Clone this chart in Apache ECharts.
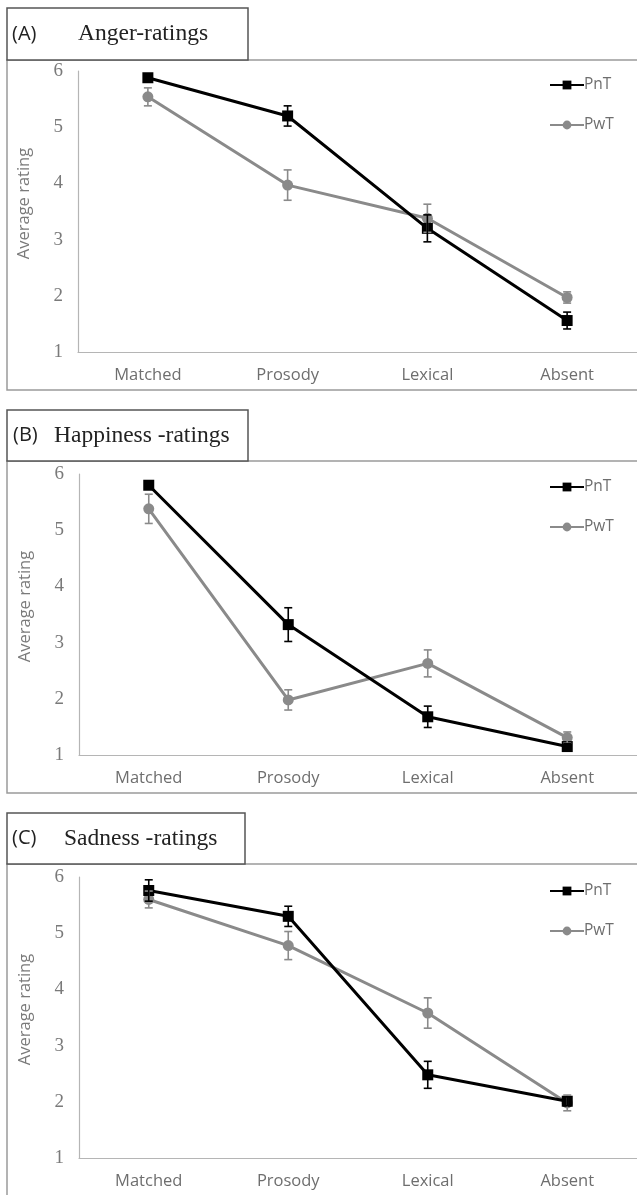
<!DOCTYPE html>
<html><head><meta charset="utf-8">
<script src="https://cdn.jsdelivr.net/npm/echarts@6/dist/echarts.min.js"></script>
<style>html,body{margin:0;padding:0;background:#fff}#c{width:637px;height:1195px}</style>
</head><body><div id="c"></div>
<script>
var categories = ['Matched', 'Prosody', 'Lexical', 'Absent'];
var yTicks = [1, 2, 3, 4, 5, 6];
var panelTitles = [['(A)', 'Anger-ratings'], ['(B)', 'Happiness -ratings'], ['(C)', 'Sadness -ratings']];
var seriesNames = ['PnT', 'PwT'];

var angerPnT = [5.88, 5.20, 3.20, 1.56];
var angerPnTErr = [0.05, 0.18, 0.24, 0.15];
var angerPwT = [5.54, 3.97, 3.38, 1.97];
var angerPwTErr = [0.16, 0.27, 0.25, 0.10];

var happyPnT = [5.80, 3.32, 1.68, 1.15];
var happyPnTErr = [0.05, 0.30, 0.19, 0.05];
var happyPwT = [5.38, 1.98, 2.63, 1.31];
var happyPwTErr = [0.26, 0.18, 0.24, 0.10];

var sadPnT = [5.76, 5.30, 2.48, 2.01];
var sadPnTErr = [0.19, 0.18, 0.24, 0.08];
var sadPwT = [5.60, 4.78, 3.58, 1.98];
var sadPwTErr = [0.15, 0.25, 0.27, 0.14];

var panels = [
  {pnt: angerPnT, pntE: angerPnTErr, pwt: angerPwT, pwtE: angerPwTErr},
  {pnt: happyPnT, pntE: happyPnTErr, pwt: happyPwT, pwtE: happyPwTErr},
  {pnt: sadPnT, pntE: sadPnTErr, pwt: sadPwT, pwtE: sadPwTErr}
];

// layout
var grids = [
  {left: 78, top: 71, height: 281, width: 560},
  {left: 79, top: 474, height: 281, width: 564},
  {left: 79, top: 877, height: 281, width: 564}
];
var frames = [
  {box: [7, 8, 241, 52], frame: [7, 60, 640, 330], t1x: 12, t2x: 78},
  {box: [7, 410, 241, 51], frame: [7, 461, 640, 332], t1x: 13, t2x: 54},
  {box: [7, 813, 238, 51], frame: [7, 864, 640, 340], t1x: 12, t2x: 64}
];
var legendTops = [72, 474, 878];

var BLACK = '#000000', GREY = '#8a8a8a';

function errData(m, e) { return m.map(function (v, i) { return [i, v - e[i], v + e[i]]; }); }
function errRender(color) {
  return function (params, api) {
    var x = api.value(0);
    var p1 = api.coord([x, api.value(2)]);
    var p2 = api.coord([x, api.value(1)]);
    var w = 4;
    var st = {stroke: color, lineWidth: 1.6};
    return {type: 'group', children: [
      {type: 'line', shape: {x1: p1[0], y1: p1[1], x2: p2[0], y2: p2[1]}, style: st},
      {type: 'line', shape: {x1: p1[0] - w, y1: p1[1], x2: p1[0] + w, y2: p1[1]}, style: st},
      {type: 'line', shape: {x1: p2[0] - w, y1: p2[1], x2: p2[0] + w, y2: p2[1]}, style: st}
    ]};
  };
}

var option = {
  animation: false,
  backgroundColor: '#fff',
  grid: [], xAxis: [], yAxis: [], series: [], legend: [], graphic: []
};

panels.forEach(function (p, k) {
  var g = grids[k];
  option.grid.push({left: g.left, top: g.top, width: g.width, height: g.height, containLabel: false});
  option.xAxis.push({
    type: 'category', gridIndex: k, data: categories, boundaryGap: true,
    axisLine: {lineStyle: {color: '#b5b5b5', width: 1.2}}, axisTick: {show: false},
    axisLabel: {color: '#6e6e6e', fontFamily: 'Open Sans', fontSize: 16.5, margin: 15},
    splitLine: {show: false}
  });
  option.yAxis.push({
    type: 'value', gridIndex: k, min: yTicks[0], max: yTicks[yTicks.length - 1], interval: 1,
    axisLine: {show: true, lineStyle: {color: '#b5b5b5', width: 1.2}}, axisTick: {show: false},
    axisLabel: {color: '#7a7a7a', fontFamily: 'Liberation Serif', fontSize: 19, margin: 15},
    splitLine: {show: false},
    name: 'Average rating', nameLocation: 'middle', nameGap: 45, nameRotate: 90,
    nameTextStyle: {color: '#7a7a7a', fontFamily: 'Open Sans', fontSize: 16.5, padding: [0, 0, 0, 16]}
  });
  option.series.push({
    name: seriesNames[0], type: 'line', xAxisIndex: k, yAxisIndex: k, data: p.pnt,
    symbol: 'rect', symbolSize: 11, lineStyle: {color: BLACK, width: 3},
    itemStyle: {color: BLACK}, z: 3
  });
  option.series.push({
    name: seriesNames[1], type: 'line', xAxisIndex: k, yAxisIndex: k, data: p.pwt,
    symbol: 'circle', symbolSize: 11, lineStyle: {color: GREY, width: 3},
    itemStyle: {color: GREY}, z: 2
  });
  option.series.push({
    type: 'custom', xAxisIndex: k, yAxisIndex: k, data: errData(p.pwt, p.pwtE),
    renderItem: errRender(GREY), z: 4, silent: true
  });
  option.series.push({
    type: 'custom', xAxisIndex: k, yAxisIndex: k, data: errData(p.pnt, p.pntE),
    renderItem: errRender(BLACK), z: 5, silent: true
  });
  option.legend.push({
    data: seriesNames, orient: 'vertical', left: 544, top: legendTops[k],
    itemWidth: 34, itemHeight: 11, itemGap: 24,
    textStyle: {color: '#6e6e6e', fontFamily: 'Open Sans', fontSize: 15.5, padding: [0, 0, 0, -5]},
    selectedMode: false
  });
  var f = frames[k];
  option.graphic.push({
    type: 'rect', shape: {x: f.frame[0], y: f.frame[1], width: f.frame[2], height: f.frame[3]},
    style: {fill: null, stroke: '#9a9a9a', lineWidth: 1.5}, z: -10, silent: true
  });
  option.graphic.push({
    type: 'rect', shape: {x: f.box[0], y: f.box[1], width: f.box[2], height: f.box[3]},
    style: {fill: '#fff', stroke: '#555', lineWidth: 1.5}, z: -5, silent: true
  });
  option.graphic.push({
    type: 'text', x: f.t1x, y: f.box[1] + f.box[3] / 2,
    style: {text: panelTitles[k][0], fill: '#222', font: '20px "Open Sans"', verticalAlign: 'middle'}, z: 10
  });
  option.graphic.push({
    type: 'text', x: f.t2x, y: f.box[1] + f.box[3] / 2,
    style: {text: panelTitles[k][1], fill: '#222', font: '23.5px "Liberation Serif"', verticalAlign: 'middle'}, z: 10
  });
});

var chart = echarts.init(document.getElementById('c'), null, {renderer: 'canvas'});
chart.setOption(option);
</script></body></html>
